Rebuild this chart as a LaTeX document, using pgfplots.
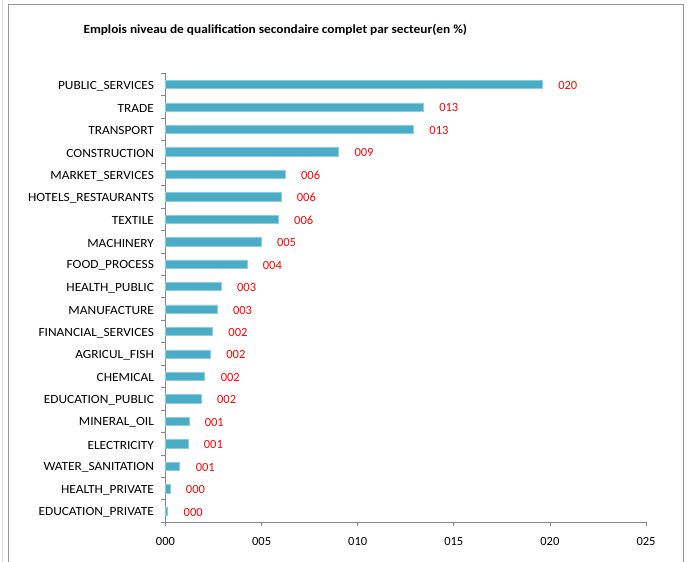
\documentclass[border=0pt]{standalone}
\usepackage{pgfplots}
\pgfplotsset{compat=1.18}
\usepackage{pgfplotstable}
\usepackage{fontspec}
\setmainfont{Carlito}
\newfontfamily\widefont{Carlito}[FakeStretch=1.07]

\definecolor{barfill}{RGB}{75,172,198}
\definecolor{baredge}{RGB}{140,205,225}
\definecolor{axgray}{RGB}{134,134,134}
\definecolor{framegray}{RGB}{150,150,150}

% Share of jobs with completed secondary education, by sector (%)
% idx 0 = bottom row, 19 = top row
\pgfplotstableread{
idx value label
19 19.60 020
18 13.41 013
17 12.90 013
16  9.00 009
15  6.22 006
14  6.00 006
13  5.86 006
12  4.97 005
11  4.23 004
10  2.89 003
9   2.68 003
8   2.44 002
7   2.33 002
6   2.04 002
5   1.85 002
4   1.21 001
3   1.16 001
2   0.74 001
1   0.23 000
0   0.11 000
}\sectors

\begin{document}
\begin{tikzpicture}[x=1pt,y=1pt]
\useasboundingbox (0,0) rectangle (691,-562);
% outer chart frame
\draw[black!15, line width=0.6pt] (2,-562) -- (2,0);
\draw[framegray, line width=0.9pt] (8,-562) -- (8,-4.3) -- (683,-4.3) -- (683,-562);
% title
\node[anchor=west, inner sep=0pt, font=\widefont\fontsize{12.45}{14}\selectfont\bfseries]
  at (83.3,-29.8) {Emplois niveau de qualification secondaire complet par secteur(en \%)};

\begin{axis}[
  at={(165.5pt,-522.3pt)}, anchor=south west,
  scale only axis, width=480.5pt, height=449pt,
  xbar, bar width=8.3pt,
  xmin=0, xmax=25, ymin=-0.5, ymax=19.5,
  axis x line*=bottom, axis y line*=left,
  axis line style={axgray, line width=0.8pt},
  xtick={0,5,...,25},
  xticklabels={000,005,010,015,020,025},
  ytick={0,...,19},
  yticklabels={EDUCATION\_PRIVATE,HEALTH\_PRIVATE,WATER\_SANITATION,ELECTRICITY,MINERAL\_OIL,EDUCATION\_PUBLIC,CHEMICAL,AGRICUL\_FISH,FINANCIAL\_SERVICES,MANUFACTURE,HEALTH\_PUBLIC,FOOD\_PROCESS,MACHINERY,TEXTILE,HOTELS\_RESTAURANTS,MARKET\_SERVICES,CONSTRUCTION,TRANSPORT,TRADE,PUBLIC\_SERVICES},
  minor ytick={-0.5,0.5,...,19.5},
  tick align=outside,
  major tick length=4pt, minor tick length=4pt,
  tick style={axgray, line width=0.8pt},
  major y tick style={draw=none},
  tick label style={font=\fontsize{12.5}{14}\selectfont, text=black},
  yticklabel style={xshift=-4pt, yshift=-1.5pt, font=\widefont\fontsize{12.5}{14}\selectfont},
  xticklabel style={yshift=-8pt},
  nodes near coords,
  point meta=explicit symbolic,
  nodes near coords style={text=red, font=\fontsize{12.5}{14}\selectfont,
    anchor=west, inner sep=0pt, xshift=15.8pt, yshift=-1pt},
  clip=false,
]
\addplot[fill=barfill, draw=baredge, line width=0.5pt]
  table[x=value, y=idx, meta=label] {\sectors};
\end{axis}
\end{tikzpicture}
\end{document}
